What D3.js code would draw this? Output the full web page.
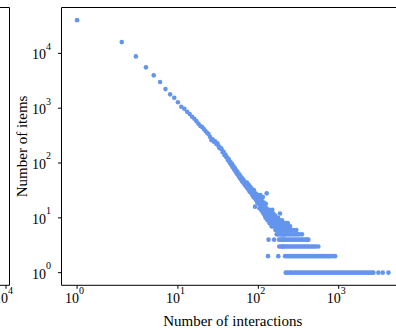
<!DOCTYPE html>
<html>
<head>
<meta charset="utf-8">
<script src="https://cdn.jsdelivr.net/npm/d3@7"></script>
<style>
  html, body { margin: 0; padding: 0; background: #fff; }
  svg { display: block; }
</style>
</head>
<body>
<script>
// Data: number of interactions -> number of items
const headInteractions = [1, 2, 3, 4, 5, 6, 7, 8, 9, 10, 11, 12, 13, 14, 15, 16, 17, 18, 19, 20, 21, 22, 23, 24, 25, 26, 27, 28, 29, 30, 31, 32, 33, 34]
const headItems = [40400, 16070, 8810, 5560, 3970, 3000, 2230, 1790, 1550, 1280, 1062, 977, 861, 782, 700, 640, 580, 520, 473, 455, 417, 383, 355, 338, 302, 262, 270, 245, 250, 222, 230, 205, 186, 190]

const bodyInteractions = [35, 36, 37, 38, 39, 40, 41, 42, 43, 44, 45, 46, 47, 48, 49, 50, 51, 52, 53, 54, 55, 56, 57, 58, 59, 60, 61, 62, 63, 64, 65, 66, 67, 68, 69, 70, 71, 72, 73, 74, 75, 76, 77, 78, 79, 80, 81, 82, 83, 84, 85, 86, 87, 88, 89, 90, 91, 92, 93, 94, 95, 96, 97, 98, 99, 100]
const bodyItems = [178, 158, 160, 139, 142, 128, 126, 112, 117, 101, 104, 92, 97, 84, 88, 76, 81, 70, 74, 64, 69, 61, 58, 62, 53, 57, 50, 54, 46, 51, 44, 48, 41, 45, 39, 43, 37, 44, 35, 39, 33, 40, 34, 30, 37, 31, 35, 28, 33, 26, 31, 29, 24, 32, 27, 23, 16, 28, 25, 21, 27, 22, 19, 26, 20, 23]

const cloudInteractions = [101, 102, 103, 104, 105, 106, 107, 108, 109, 110, 111, 112, 113, 114, 115, 116, 117, 118, 119, 120, 121, 122, 123, 124, 125, 126, 127, 128, 129, 130, 131, 132, 133, 134, 135, 136, 137, 138, 139, 140, 141, 142, 143, 144, 145, 146, 147, 148, 149, 150, 151, 152, 153, 154, 155, 156, 157, 158, 159, 160, 161, 162, 163, 164, 165, 166, 167, 168, 169, 170, 171, 172, 173, 174, 175, 176, 177, 178, 179, 180, 181, 182, 183, 184, 185, 186, 187, 188, 189, 190, 191, 192, 193, 194, 195, 196, 197, 198, 199, 200, 201, 202, 203, 204, 205, 206, 207, 208, 209, 210]
const cloudItems = [18, 24, 15, 21, 19, 26, 17, 14, 22, 18, 20, 13, 16, 24, 15, 12, 19, 14, 17, 11, 16, 13, 10, 18, 12, 15, 28, 11, 14, 9, 13, 2, 11, 4, 12, 9, 14, 8, 11, 10, 9, 12, 8, 13, 10, 7, 11, 9, 14, 8, 10, 7, 12, 9, 8, 11, 4, 10, 7, 9, 8, 11, 6, 9, 7, 10, 8, 6, 5, 9, 7, 9, 6, 8, 5, 10, 2, 7, 6, 8, 4, 3, 7, 9, 5, 12, 8, 4, 7, 6, 5, 8, 3, 6, 7, 4, 9, 5, 6, 3, 6, 4, 7, 5, 3, 8, 6, 4, 5, 7]

// Tail: interaction counts that hold a small number of items
const tailOnce = [219, 231, 247, 258, 276, 290, 309, 326, 347, 365, 389, 410, 436, 460, 489, 515, 548, 578, 614, 649, 689, 727, 772, 816, 866, 915, 971, 1026, 1088, 1150, 1220, 1290, 1368, 1446, 1534, 1622, 1719, 1819, 1928, 2039, 2161, 2287, 2423, 2564, 2702, 3112, 3528, 4150]
const tailTwice = [215, 227, 239, 252, 265, 280, 295, 311, 328, 345, 364, 384, 404, 426, 449, 474, 499, 526, 555, 585, 616, 650, 685, 722, 761, 780, 843, 901]
const tailThrice = [212, 224, 236, 249, 262, 277, 291, 307, 324, 341, 360, 379, 400, 421, 444, 468, 493, 520, 557]
const tailFour = [214, 226, 238, 251, 266, 279, 294, 310, 327, 346, 363, 383, 401, 419]
const tailFive = [213, 222, 234, 246, 260, 274, 289, 305, 322, 349]
const tailSix = [211, 217, 229, 241, 257, 273, 297]
const tailSeven = [216, 223, 235, 248]
const tailEight = [221, 232]

const xTicks = [1, 10, 100, 1000]
const yTicks = [1, 10, 100, 1000, 10000]

// Config
const width = 396, height = 333
const margin = { top: 7.5, right: -8, bottom: 47.7, left: 61.5 }
const color = "#6495ed"
const font = "'Liberation Serif', 'Times New Roman', serif"

// Symmetric log transform (linear below linthresh, log10 above)
const linthresh = 2, linscaleAdj = 1 / (1 - 1 / 10)
const symlog = v => Math.abs(v) <= linthresh
  ? v * linscaleAdj
  : Math.sign(v) * linthresh * (linscaleAdj + Math.log10(Math.abs(v) / linthresh))

// Prepare points
const points = [
  ...headInteractions.map((d, i) => [d, headItems[i]]),
  ...bodyInteractions.map((d, i) => [d, bodyItems[i]]),
  ...cloudInteractions.map((d, i) => [d, cloudItems[i]]),
  ...tailOnce.map(d => [d, 1]),
  ...tailTwice.map(d => [d, 2]),
  ...tailThrice.map(d => [d, 3]),
  ...tailFour.map(d => [d, 4]),
  ...tailFive.map(d => [d, 5]),
  ...tailSix.map(d => [d, 6]),
  ...tailSeven.map(d => [d, 7]),
  ...tailEight.map(d => [d, 8]),
]

// Scales (5% padding like matplotlib autoscale)
const [tx0, tx1] = d3.extent(points, d => symlog(d[0]))
const padX = (tx1 - tx0) * 0.05
const xT = d3.scaleLinear().domain([tx0 - padX, tx1 + padX]).range([margin.left, width - margin.right])
const x = v => xT(symlog(v))

const [ly0, ly1] = d3.extent(points, d => Math.log10(d[1]))
const padY = (ly1 - ly0) * 0.05
const y = d3.scaleLog().domain([10 ** (ly0 - padY), 10 ** (ly1 + padY)]).range([height - margin.bottom, margin.top])

const plotLeft = margin.left, plotRight = width - margin.right
const plotTop = margin.top, plotBottom = height - margin.bottom

// Create SVG
const svg = d3.select("body").append("svg")
  .attr("width", width)
  .attr("height", height)
  .attr("font-family", font)

// Neighbouring panel (cut off on the left)
const stub = svg.append("g")
  .attr("stroke", "#000")
  .attr("stroke-width", 1)
stub.append("path")
  .attr("fill", "none")
  .attr("d", `M0,${plotTop}H9.5V${plotBottom}H0`)
stub.append("line")
  .attr("x1", 6).attr("x2", 6)
  .attr("y1", plotBottom).attr("y2", plotBottom + 3.5)
const stubLabel = svg.append("text")
  .attr("x", 3.5)
  .attr("y", 303)
  .attr("text-anchor", "middle")
  .attr("font-size", 14)
stubLabel.append("tspan").text("10")
stubLabel.append("tspan").attr("dy", -9.5).attr("font-size", 10).text("4")

// Render points
svg.append("g")
  .selectAll("circle")
  .data(points)
  .join("circle")
  .attr("cx", d => x(d[0]))
  .attr("cy", d => y(d[1]))
  .attr("r", 2.3)
  .attr("fill", color)

// Spines
svg.append("path")
  .attr("fill", "none")
  .attr("stroke", "#000")
  .attr("stroke-width", 1)
  .attr("d", `M${plotRight},${plotTop}H${plotLeft}V${plotBottom}H${plotRight}`)

// X axis ticks
const gx = svg.append("g")
gx.selectAll("line")
  .data(xTicks)
  .join("line")
  .attr("x1", d => x(d)).attr("x2", d => x(d))
  .attr("y1", plotBottom).attr("y2", plotBottom + 3.5)
  .attr("stroke", "#000")
  .attr("stroke-width", 1)
gx.selectAll("text")
  .data(xTicks)
  .join("text")
  .attr("x", d => x(d) - 2.5)
  .attr("y", 303)
  .attr("text-anchor", "middle")
  .attr("font-size", 14)
  .each(function (d) {
    const t = d3.select(this)
    t.append("tspan").text("10")
    t.append("tspan").attr("dy", -9.5).attr("font-size", 10).text(Math.round(Math.log10(d)))
  })

// Y axis ticks
const gy = svg.append("g")
gy.selectAll("line")
  .data(yTicks)
  .join("line")
  .attr("x1", plotLeft - 3.5).attr("x2", plotLeft)
  .attr("y1", d => y(d)).attr("y2", d => y(d))
  .attr("stroke", "#000")
  .attr("stroke-width", 1)
gy.selectAll("text")
  .data(yTicks)
  .join("text")
  .attr("x", 51)
  .attr("y", d => y(d) + 5.9)
  .attr("text-anchor", "end")
  .attr("font-size", 14)
  .each(function (d) {
    const t = d3.select(this)
    t.append("tspan").text("10")
    t.append("tspan").attr("dy", -9.5).attr("font-size", 10).text(Math.round(Math.log10(d)))
  })

// Axis labels
svg.append("text")
  .attr("x", (plotLeft + plotRight) / 2)
  .attr("y", 325.5)
  .attr("text-anchor", "middle")
  .attr("font-size", 15)
  .text("Number of interactions")
svg.append("text")
  .attr("transform", `translate(26.5,${(plotTop + plotBottom) / 2}) rotate(-90)`)
  .attr("text-anchor", "middle")
  .attr("font-size", 15)
  .text("Number of items")
</script>
</body>
</html>
